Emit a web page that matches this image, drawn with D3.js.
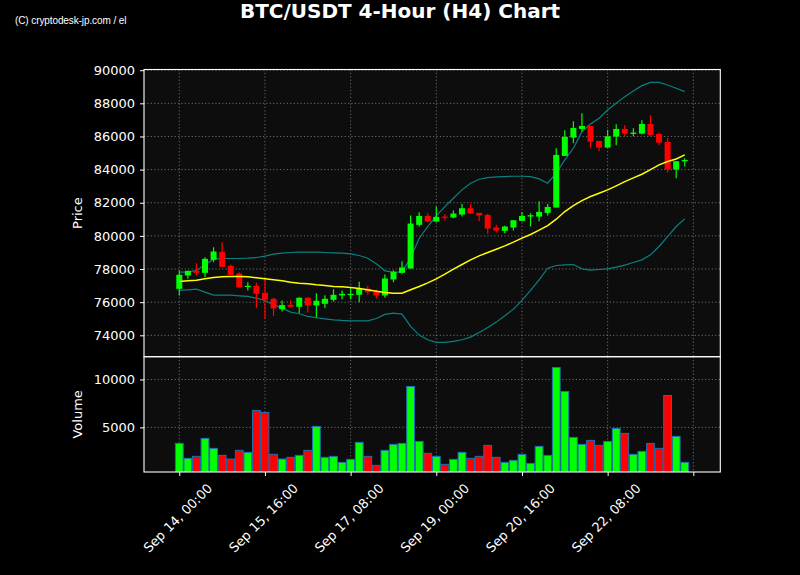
<!DOCTYPE html>
<html>
<head>
<meta charset="utf-8">
<script src="https://cdn.jsdelivr.net/npm/d3@7"></script>
<style>
  html, body { margin: 0; padding: 0; background: #000; }
  svg { display: block; }
  text { font-family: "DejaVu Sans", sans-serif; fill: #fff; }
</style>
</head>
<body>
<svg id="chart" width="800" height="575"></svg>
<script>
// ---------- DATA ----------
const opens  = [76806,77610,77892,77771,78555,79038,78193,77731,76927,76988,
                76565,76203,75580,75842,75721,76264,75802,75902,76143,76405,
                76425,76445,76806,76625,76404,77369,77771,78032,80665,81207,
                80866,81167,81107,81288,81670,81388,81268,80504,80303,80504,
                80906,81167,81167,81388,81710,84826,85932,86455,86636,85731,
                85329,85992,86455,86153,86173,86756,86153,85671,84002,84505];
const highs  = [77912,77892,78350,78715,79320,79622,78253,77811,77208,77168,
                77449,76264,76103,76123,76304,76304,76545,76425,76786,76706,
                76847,77228,76988,76766,77671,77932,78474,81227,81428,81368,
                81770,81308,81529,81931,81931,81388,81328,80665,80605,80946,
                81448,81368,82092,81931,85288,86374,86917,87400,86636,85731,
                86394,86736,86676,86495,86977,87279,86233,85912,84505,84685];
const lows   = [76404,77409,77610,77510,78415,78133,77651,76887,76706,75641,
                74978,75158,75440,75701,75339,75380,75078,75641,76042,76183,
                76183,76002,76445,76243,76264,77208,77711,78032,80565,80826,
                80826,80926,81066,81167,81328,80886,80122,80203,80163,80323,
                80866,80565,80886,81228,81710,84826,85590,86294,85288,85107,
                85329,85469,86012,86012,86113,86032,85469,83821,83480,84183];
const closes = [77651,77892,77771,78615,79058,78133,77651,76887,76988,76505,
                76143,75620,75822,75721,76264,75802,76083,76203,76445,76505,
                76505,76806,76605,76404,77429,77831,78092,80745,81207,80866,
                81147,81107,81348,81670,81348,81228,80444,80323,80565,80946,
                81207,81248,81449,81750,84886,85972,86515,86636,85691,85329,
                86012,86455,86173,86233,86756,86093,85630,84002,84505,84585];
const volumes = [3330,1768,1976,3851,2810,2080,1698,2601,2393,6768,
                 6560,2185,1698,1872,2080,2601,5101,1872,1976,1351,
                 1663,3435,1976,1039,2601,3226,3330,9267,3539,2289,
                 1976,1143,1664,2393,1768,1976,3122,1872,1351,1560,
                 2185,1247,3018,2080,11247,8747,3955,3226,3643,3122,
                 3539,4893,4372,2185,2497,3330,2810,8330,4060,1351];
const sma20 = [77248,77289,77329,77409,77490,77530,77550,77550,77530,77470,
               77409,77349,77289,77208,77148,77108,77048,77007,76947,76927,
               76887,76826,76746,76666,76585,76545,76545,76746,76947,77168,
               77409,77691,77993,78274,78555,78796,78997,79198,79399,79620,
               79862,80082,80344,80625,81007,81470,81831,82133,82374,82575,
               82776,83017,83279,83500,83721,84002,84284,84485,84645,84886];
const bbUpper = [77811,77831,77912,78253,78595,78635,78635,78635,78655,78695,
                 78776,78896,78957,78997,79017,79017,79017,78997,78977,78957,
                 78916,78816,78655,78313,77892,77811,77831,78655,79861,80565,
                 81208,81771,82273,82776,83178,83419,83520,83560,83580,83600,
                 83600,83580,83439,83178,83781,84585,85288,86294,86756,87098,
                 87600,88002,88404,88746,89067,89268,89268,89108,88907,88706];
const bbLower = [76706,76746,76786,76605,76424,76424,76424,76384,76344,76243,
                 76103,75842,75640,75399,75299,75138,75058,74997,74937,74897,
                 74877,74877,74877,75017,75259,75339,75279,74535,74012,73731,
                 73570,73570,73631,73731,73892,74174,74475,74796,75178,75580,
                 76103,76706,77349,78052,78213,78253,78274,78012,77932,77972,
                 78012,78112,78233,78394,78555,78856,79359,79962,80565,81027];
const priceTicks  = [74000,76000,78000,80000,82000,84000,86000,88000,90000];
const volumeTicks = [5000,10000];
const xTickIndex  = [0,10,20,30,40,50,60];
const xTickLabels = ["Sep 14, 00:00","Sep 15, 16:00","Sep 17, 08:00","Sep 19, 00:00",
                     "Sep 20, 16:00","Sep 22, 08:00",""];
const titleText = "BTC/USDT 4-Hour (H4) Chart";
const creditText = "(C) cryptodesk-jp.com / el";

// ---------- LAYOUT ----------
const svg = d3.select("#chart");
const L = 144, R = 720.3;
const pTop = 69.5, pBot = 356.7, vTop = 356.7, vBot = 472;
const UP = "#00ff00", DOWN = "#ff0000";

svg.append("rect").attr("width", 800).attr("height", 575).attr("fill", "#000");

const x = d3.scaleLinear().domain([-4.12, 63.15]).range([L, R]);
const yP = d3.scaleLinear().domain([72709, 90042]).range([pBot, pTop]);
const yV = d3.scaleLinear().domain([344, 12375]).range([vBot, vTop]);

const defs = svg.append("defs");
defs.append("clipPath").attr("id", "clipP").append("rect")
  .attr("x", L).attr("y", pTop).attr("width", R - L).attr("height", pBot - pTop);
defs.append("clipPath").attr("id", "clipV").append("rect")
  .attr("x", L).attr("y", vTop).attr("width", R - L).attr("height", vBot - vTop);

// panel backgrounds
svg.append("rect").attr("x", L).attr("y", pTop).attr("width", R - L).attr("height", pBot - pTop).attr("fill", "#0d0d0d");
svg.append("rect").attr("x", L).attr("y", vTop).attr("width", R - L).attr("height", vBot - vTop).attr("fill", "#0d0d0d");

// grids
const grid = svg.append("g").attr("stroke", "#9a9a9a").attr("stroke-width", 0.8)
  .attr("stroke-dasharray", "1.2,2.2").attr("opacity", 0.85);
xTickIndex.forEach(i => {
  grid.append("line").attr("x1", x(i)).attr("x2", x(i)).attr("y1", pTop).attr("y2", pBot);
  grid.append("line").attr("x1", x(i)).attr("x2", x(i)).attr("y1", vTop).attr("y2", vBot);
});
priceTicks.forEach(v => grid.append("line").attr("x1", L).attr("x2", R).attr("y1", yP(v)).attr("y2", yP(v)));
volumeTicks.forEach(v => grid.append("line").attr("x1", L).attr("x2", R).attr("y1", yV(v)).attr("y2", yV(v)));

// ---------- PRICE PANEL ----------
const gP = svg.append("g").attr("clip-path", "url(#clipP)");
const idx = d3.range(opens.length);
const line = arr => d3.line().x((d, i) => x(i)).y(d => yP(d)).curve(d3.curveLinear)(arr);

gP.append("path").attr("d", line(bbUpper)).attr("fill", "none").attr("stroke", "#0b8080").attr("stroke-width", 1.2);
gP.append("path").attr("d", line(bbLower)).attr("fill", "none").attr("stroke", "#0b8080").attr("stroke-width", 1.2);

const bodyW = 6;
idx.forEach(i => {
  const up = closes[i] >= opens[i];
  const c = up ? UP : DOWN;
  gP.append("line").attr("x1", x(i)).attr("x2", x(i))
    .attr("y1", yP(highs[i])).attr("y2", yP(lows[i])).attr("stroke", c).attr("stroke-width", 1.2);
  const yt = yP(Math.max(opens[i], closes[i])), yb = yP(Math.min(opens[i], closes[i]));
  gP.append("rect").attr("x", x(i) - bodyW / 2).attr("y", yt)
    .attr("width", bodyW).attr("height", Math.max(1.2, yb - yt)).attr("fill", c);
});

gP.append("path").attr("d", line(sma20)).attr("fill", "none").attr("stroke", "#ffff00").attr("stroke-width", 1.5);

// ---------- VOLUME PANEL ----------
const gV = svg.append("g").attr("clip-path", "url(#clipV)");
const barW = 7.8;
idx.forEach(i => {
  const up = closes[i] >= opens[i];
  gV.append("rect").attr("x", x(i) - barW / 2).attr("y", yV(volumes[i]))
    .attr("width", barW).attr("height", yV(0) - yV(volumes[i]))
    .attr("fill", up ? UP : DOWN).attr("stroke", "#1f6fb0").attr("stroke-width", 1);
});

// ---------- AXES ----------
const frame = (y0, y1) => svg.append("rect").attr("x", L).attr("y", y0).attr("width", R - L)
  .attr("height", y1 - y0).attr("fill", "none").attr("stroke", "#fff").attr("stroke-width", 1.1);
frame(pTop, pBot);
frame(vTop, vBot);

const axP = svg.append("g").attr("transform", `translate(${L},0)`)
  .call(d3.axisLeft(yP).tickValues(priceTicks).tickSize(4).tickPadding(5).tickFormat(d3.format("d")));
const axV = svg.append("g").attr("transform", `translate(${L},0)`)
  .call(d3.axisLeft(yV).tickValues(volumeTicks).tickSize(4).tickPadding(5).tickFormat(d3.format("d")));
const axX = svg.append("g").attr("transform", `translate(0,${vBot})`)
  .call(d3.axisBottom(x).tickValues(xTickIndex).tickSize(4).tickFormat((d, k) => xTickLabels[k]));

[axP, axV, axX].forEach(a => {
  a.select(".domain").remove();
  a.selectAll(".tick line").attr("stroke", "#fff").attr("stroke-width", 1);
  a.selectAll(".tick text").attr("fill", "#fff").style("font-size", "13px")
    .style("font-family", "DejaVu Sans, sans-serif");
});
axX.selectAll(".tick text")
  .attr("text-anchor", "middle")
  .attr("y", 0)
  .attr("dy", "0.35em")
  .attr("transform", "translate(-2,46) rotate(-45)");

// axis labels
svg.append("text").attr("transform", `translate(82,${(pTop + pBot) / 2}) rotate(-90)`)
  .attr("text-anchor", "middle").style("font-size", "13px").text("Price");
svg.append("text").attr("transform", `translate(82,${(vTop + vBot) / 2}) rotate(-90)`)
  .attr("text-anchor", "middle").style("font-size", "13px").text("Volume");

// title & credit
svg.append("text").attr("x", 400).attr("y", 17.5).attr("text-anchor", "middle")
  .style("font-size", "20px").style("font-weight", "bold").text(titleText);
svg.append("text").attr("x", 15).attr("y", 24)
  .style("font-family", "Liberation Sans, Arial, sans-serif").style("font-size", "10px")
  .style("letter-spacing", "-0.1px").text(creditText);
</script>
</body>
</html>
